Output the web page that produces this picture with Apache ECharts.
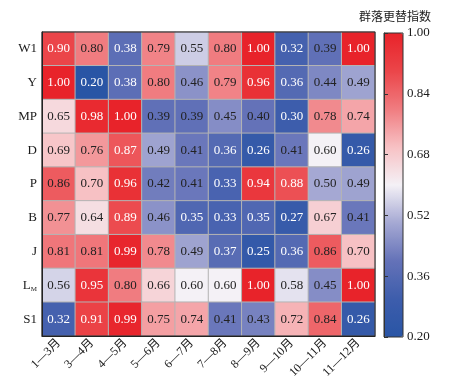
<!DOCTYPE html>
<html>
<head>
<meta charset="utf-8">
<script src="https://cdn.jsdelivr.net/npm/echarts@6/dist/echarts.min.js"></script>
<style>html,body{margin:0;padding:0;background:#fff;}#c{width:456px;height:381px;}</style>
</head>
<body>
<div id="c"></div>
<script>
const months = ['1—3月','3—4月','4—5月','5—6月','6—7月','7—8月','8—9月','9—10月','10—11月','11—12月'];
const sites = ['W1','Y','MP','D','P','B','J','LM','S1'];
const W1 = [0.90,0.80,0.38,0.79,0.55,0.80,1.00,0.32,0.39,1.00];
const Y  = [1.00,0.20,0.38,0.80,0.46,0.79,0.96,0.36,0.44,0.49];
const MP = [0.65,0.98,1.00,0.39,0.39,0.45,0.40,0.30,0.78,0.74];
const D  = [0.69,0.76,0.87,0.49,0.41,0.36,0.26,0.41,0.60,0.26];
const P  = [0.86,0.70,0.96,0.42,0.41,0.33,0.94,0.88,0.50,0.49];
const B  = [0.77,0.64,0.89,0.46,0.35,0.33,0.35,0.27,0.67,0.41];
const J  = [0.81,0.81,0.99,0.78,0.49,0.37,0.25,0.36,0.86,0.70];
const LM = [0.56,0.95,0.80,0.66,0.60,0.60,1.00,0.58,0.45,1.00];
const S1 = [0.32,0.91,0.99,0.75,0.74,0.41,0.43,0.72,0.84,0.26];
const rows = [W1,Y,MP,D,P,B,J,LM,S1];
const colorbarTitle = '群落更替指数';

const data = [];
rows.forEach((r, yi) => r.forEach((v, xi) => data.push([xi, yi, v])));

const serif = '"Liberation Serif","Times New Roman","Noto Sans CJK SC",serif';
const textColor = '#1a1a1a';

const chart = echarts.init(document.getElementById('c'), null, {renderer: 'canvas'});
chart.setOption({
  animation: false,
  backgroundColor: '#fff',
  title: {
    text: colorbarTitle,
    left: 359, top: 10, padding: 0,
    textStyle: {fontFamily: '"Noto Sans CJK SC",serif', fontSize: 12, fontWeight: 'normal', color: textColor}
  },
  grid: [
    {left: 42, top: 32, width: 333, height: 305, show: true, borderColor: '#222', borderWidth: 1, backgroundColor: 'transparent', z: 5},
    {left: 384, top: 33, width: 19, height: 304, show: true, borderColor: '#333', borderWidth: 1, backgroundColor: 'transparent', z: 10}
  ],
  xAxis: [
    {
      type: 'category', data: months, gridIndex: 0, z: 6,
      axisLine: {lineStyle: {color: '#222', width: 1}},
      axisTick: {inside: true, length: 4, alignWithLabel: true, lineStyle: {color: '#222'}},
      axisLabel: {rotate: 45, margin: 5, padding: [6, 0, 0, 0], fontFamily: serif, fontSize: 12, color: textColor, interval: 0},
      splitLine: {show: false}
    },
    {type: 'value', gridIndex: 1, show: false}
  ],
  yAxis: [
    {
      type: 'category', data: sites, gridIndex: 0, inverse: true, z: 6,
      axisLine: {lineStyle: {color: '#222', width: 1}},
      axisTick: {inside: true, length: 4, alignWithLabel: true, lineStyle: {color: '#222'}},
      axisLabel: {
        margin: 5, fontFamily: serif, fontSize: 13, color: textColor,
        formatter: v => v === 'LM' ? '{l|L}{s|M}' : v,
        rich: {
          l: {fontFamily: serif, fontSize: 13, color: textColor},
          s: {fontFamily: serif, fontSize: 7, color: textColor, padding: [7, 0, 0, 0]}
        }
      },
      splitLine: {show: false}
    },
    {
      type: 'value', gridIndex: 1, position: 'right', min: 0.2, max: 1.0, interval: 0.16, z: 11,
      axisLine: {show: true, lineStyle: {color: '#333'}},
      axisTick: {show: true, inside: false, length: 4, lineStyle: {color: '#333'}},
      axisLabel: {margin: 4, fontFamily: serif, fontSize: 13, color: textColor, formatter: v => v.toFixed(2)},
      splitLine: {show: false}
    }
  ],
  visualMap: {
    type: 'continuous', min: 0.2, max: 1.0, seriesIndex: 0, dimension: 2,
    calculable: false, hoverLink: false, realtime: false,
    orient: 'vertical', left: 384, top: 33, itemWidth: 19, itemHeight: 304, padding: 0,
    text: null, showLabel: false,
    inRange: {color: ['#2955a5','#3d5dac','#6472b8','#a5a8d3','#f4f1f6','#f7c1c4','#f07c80','#eb4549','#e8232a']}
  },
  series: [{
    type: 'heatmap', xAxisIndex: 0, yAxisIndex: 0, data: data,
    itemStyle: {borderColor: '#b4b4b4', borderWidth: 1},
    label: {
      show: true,
      fontFamily: serif, fontSize: 13,
      formatter: p => {
        const v = p.value[2];
        const key = (v < 0.385 || v > 0.865) ? 'w' : 'd';
        return '{' + key + '|' + v.toFixed(2) + '}';
      },
      rich: {
        w: {color: '#ffffff', fontFamily: serif, fontSize: 13},
        d: {color: '#222222', fontFamily: serif, fontSize: 13}
      }
    },
    emphasis: {disabled: true}
  }]
});
</script>
</body>
</html>
